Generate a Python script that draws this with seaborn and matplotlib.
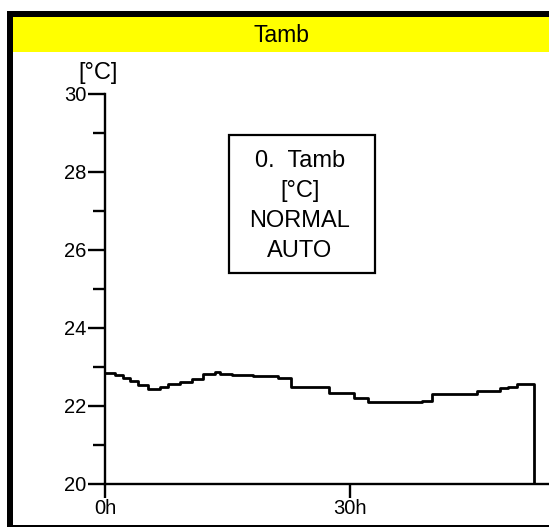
import numpy as np
import pandas as pd
import matplotlib
matplotlib.use('Agg')
import matplotlib.pyplot as plt
from matplotlib.patches import Rectangle
from matplotlib.ticker import MultipleLocator, FixedLocator
import seaborn as sns

# ── data: step changes of Tamb (hours, °C) ───────────────────────────────────
hours = [0.0, 1.2, 2.2, 3.1, 4.1, 5.3, 6.7, 7.7, 9.2, 10.65, 12.0, 13.5, 14.1,
         15.55, 18.1, 21.2, 22.8, 27.4, 30.5, 32.2, 38.8, 40.0, 45.5, 48.4,
         49.35, 50.5]
tamb = [22.85, 22.80, 22.72, 22.64, 22.54, 22.44, 22.50, 22.56, 22.62, 22.69,
        22.81, 22.86, 22.82, 22.79, 22.77, 22.72, 22.49, 22.33, 22.20, 22.10,
        22.14, 22.32, 22.38, 22.45, 22.50, 22.56]
t_end = 52.5
x_ticks = [0, 30]
x_ticklabels = ["0h", "30h"]
y_ticks = [20, 22, 24, 26, 28, 30]
box_lines = ["0.  Tamb", "[°C]", "NORMAL", "AUTO"]

# close the trace: hold last value to the end, then drop to the axis floor
df = pd.DataFrame({
    "t": hours + [t_end, t_end],
    "v": tamb + [tamb[-1], y_ticks[0]],
})

sns.set_style("white")
plt.rcParams['font.family'] = ['Liberation Sans', 'DejaVu Sans']
plt.rcParams['text.color'] = 'black'
plt.rcParams['xtick.color'] = 'black'
plt.rcParams['ytick.color'] = 'black'

W, H = 549, 527
fig = plt.figure(figsize=(W / 100, H / 100), dpi=100)
fig.patch.set_facecolor('white')


def fx(px):
    return px / W


def fy(py):
    return 1 - py / H


def frect(x0, y0, x1, y1, **kw):
    # rectangle given in pixel coords (top-left origin)
    fig.patches.append(Rectangle((fx(x0), fy(y1)), fx(x1) - fx(x0), fy(y0) - fy(y1),
                                 transform=fig.transFigure, **kw))


# ── frame and header ─────────────────────────────────────────────────────────
frect(7, 11, 12.5, 527, facecolor='black', edgecolor='none')
frect(7, 11, 549, 16.5, facecolor='black', edgecolor='none')
frect(7, 525, 549, 527, facecolor='black', edgecolor='none')
frect(13, 17, 549, 52, facecolor='#FFFF00', edgecolor='none')
fig.text(fx(281), fy(35), "Tamb", ha='center', va='center', fontsize=16.5)

# ── axes ─────────────────────────────────────────────────────────────────────
x0, xaxis_y, ytop = 105, 484, 94
px_per_h = 245 / 30
ax = fig.add_axes([fx(x0), fy(xaxis_y), 1 - fx(x0), (xaxis_y - ytop) / H])
ax.set_facecolor('none')

sns.lineplot(data=df, x="t", y="v", ax=ax, estimator=None, sort=False,
             drawstyle='steps-post', color='black', linewidth=2.0)

ax.set_xlim(0, (W - x0) / px_per_h)
ax.set_ylim(20, 30)
ax.set_xlabel("")
ax.set_ylabel("")

for side in ['top', 'right']:
    ax.spines[side].set_visible(False)
for side in ['left', 'bottom']:
    ax.spines[side].set_linewidth(1.7)
    ax.spines[side].set_color('black')

ax.yaxis.set_major_locator(FixedLocator(y_ticks))
ax.yaxis.set_minor_locator(MultipleLocator(1))
ax.set_xticks(x_ticks)
ax.set_xticklabels(x_ticklabels)
ax.tick_params(axis='y', which='major', direction='out', length=12, width=1.7,
               labelsize=14.5, pad=1.5, left=True)
ax.tick_params(axis='y', which='minor', direction='out', length=8.5, width=1.7,
               left=True)
ax.tick_params(axis='x', which='major', direction='out', length=10, width=1.7,
               labelsize=14.5, pad=0.5, bottom=True)
ax.grid(False)

fig.text(fx(98), fy(73), "[°C]", ha='center', va='center', fontsize=17)

# ── info box ─────────────────────────────────────────────────────────────────
frect(229, 135, 375, 273, facecolor='white', edgecolor='black', linewidth=1.6)
for i, line in enumerate(box_lines):
    fig.text(fx(300), fy(161 + 30 * i), line, ha='center', va='center', fontsize=17)

fig.savefig("out.png", dpi=100)
plt.close(fig)
